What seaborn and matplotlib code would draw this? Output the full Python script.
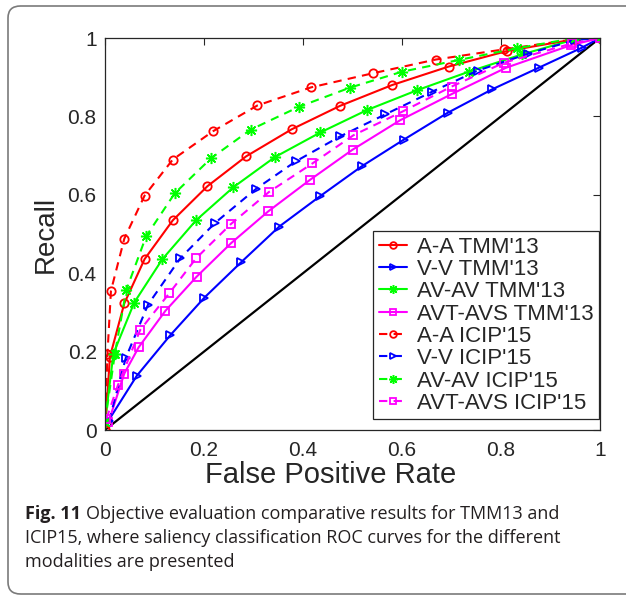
import matplotlib

matplotlib.use("Agg")
import matplotlib.pyplot as plt
import seaborn as sns
from matplotlib.patches import FancyBboxPatch

# ROC points (false positive rate, recall)
aa_tmm_x = [0.0, 0.010, 0.039, 0.080, 0.137, 0.207, 0.285, 0.377, 0.475, 0.580, 0.694, 0.813, 0.950, 1.0]
aa_tmm_y = [0.0, 0.187, 0.323, 0.436, 0.535, 0.622, 0.698, 0.767, 0.827, 0.880, 0.927, 0.967, 0.997, 1.0]

vv_tmm_x = [0.005, 0.064, 0.132, 0.201, 0.275, 0.352, 0.434, 0.519, 0.604, 0.692, 0.782, 0.876, 0.963, 1.0]
vv_tmm_y = [0.020, 0.138, 0.242, 0.338, 0.428, 0.519, 0.596, 0.673, 0.741, 0.809, 0.869, 0.924, 0.975, 1.0]

avav_tmm_x = [0.0, 0.017, 0.059, 0.116, 0.184, 0.259, 0.343, 0.435, 0.529, 0.631, 0.735, 0.842, 0.950, 1.0]
avav_tmm_y = [0.020, 0.195, 0.325, 0.436, 0.535, 0.619, 0.696, 0.759, 0.816, 0.867, 0.914, 0.958, 0.997, 1.0]

avt_tmm_x = [0.007, 0.039, 0.068, 0.122, 0.185, 0.255, 0.330, 0.414, 0.500, 0.596, 0.702, 0.810, 0.942, 1.0]
avt_tmm_y = [0.020, 0.144, 0.211, 0.304, 0.391, 0.477, 0.558, 0.638, 0.715, 0.790, 0.858, 0.924, 0.982, 1.0]

aa_icip_x = [0.0, 0.005, 0.012, 0.039, 0.080, 0.137, 0.218, 0.308, 0.416, 0.541, 0.668, 0.806, 0.950, 1.0]
aa_icip_y = [0.0, 0.195, 0.355, 0.488, 0.598, 0.690, 0.762, 0.828, 0.874, 0.910, 0.945, 0.971, 0.997, 1.0]

vv_icip_x = [0.008, 0.042, 0.087, 0.152, 0.223, 0.306, 0.385, 0.475, 0.566, 0.661, 0.753, 0.855, 0.950, 1.0]
vv_icip_y = [0.022, 0.184, 0.320, 0.438, 0.529, 0.616, 0.685, 0.749, 0.805, 0.863, 0.917, 0.960, 0.995, 1.0]

avav_icip_x = [0.0, 0.020, 0.043, 0.083, 0.141, 0.215, 0.294, 0.391, 0.494, 0.600, 0.715, 0.833, 0.950, 1.0]
avav_icip_y = [0.020, 0.195, 0.357, 0.494, 0.604, 0.694, 0.766, 0.824, 0.873, 0.914, 0.944, 0.974, 1.0, 1.0]

avt_icip_x = [0.003, 0.026, 0.071, 0.130, 0.184, 0.254, 0.331, 0.419, 0.502, 0.602, 0.700, 0.806, 0.943, 1.0]
avt_icip_y = [0.029, 0.114, 0.255, 0.349, 0.438, 0.525, 0.607, 0.680, 0.752, 0.813, 0.876, 0.937, 0.986, 1.0]

chance = [0.0, 1.0]
ticks = [0, 0.2, 0.4, 0.6, 0.8, 1]
tick_labels = ["0", "0.2", "0.4", "0.6", "0.8", "1"]

star = (8, 2, 0)
series = [
    ("A-A TMM'13", aa_tmm_x, aa_tmm_y, "#ff0000", "o", "-"),
    ("V-V TMM'13", vv_tmm_x, vv_tmm_y, "#0000ff", ">", "-"),
    ("AV-AV TMM'13", avav_tmm_x, avav_tmm_y, "#00ff00", star, "-"),
    ("AVT-AVS TMM'13", avt_tmm_x, avt_tmm_y, "#ff00ff", "s", "-"),
    ("A-A ICIP'15", aa_icip_x, aa_icip_y, "#ff0000", "o", "--"),
    ("V-V ICIP'15", vv_icip_x, vv_icip_y, "#0000ff", ">", "--"),
    ("AV-AV ICIP'15", avav_icip_x, avav_icip_y, "#00ff00", star, "--"),
    ("AVT-AVS ICIP'15", avt_icip_x, avt_icip_y, "#ff00ff", "s", "--"),
]

sns.set_theme(style="white")
plt.rcParams["font.family"] = ["Liberation Sans", "DejaVu Sans"]
plt.rcParams["xtick.direction"] = "in"
plt.rcParams["ytick.direction"] = "in"

fig = plt.figure(figsize=(6.26, 5.96), dpi=100)
ax = fig.add_axes([105 / 626, 1 - 430 / 596, 495 / 626, 392 / 596])

sns.lineplot(x=chance, y=chance, ax=ax, color="black", linewidth=1.6, sort=False)

for label, xs, ys, color, marker, style in series:
    is_star = marker == star
    sns.lineplot(
        x=xs, y=ys, ax=ax, color=color, linestyle=style, linewidth=1.5,
        marker=marker, markersize=8 if is_star else 6, markerfacecolor="none",
        markeredgecolor=color, markeredgewidth=1.1 if is_star else 1.3,
        sort=False, label=label, dashes=False,
    )
for line in ax.get_lines()[1:]:
    if line.get_linestyle() == "--":
        line.set_dashes((4, 3))

ax.set_xlim(0, 1)
ax.set_ylim(0, 1)
ax.set_xticks(ticks)
ax.set_xticklabels(tick_labels)
ax.set_yticks(ticks)
ax.set_yticklabels(tick_labels)
ax.tick_params(axis="both", labelsize=15, length=5, width=0.8, color="#262626",
               top=True, right=True)
ax.tick_params(axis="x", pad=8)
ax.tick_params(axis="y", pad=6)
for spine in ax.spines.values():
    spine.set_linewidth(0.9)
    spine.set_color("#262626")
ax.set_xlabel("False Positive Rate", fontsize=21, labelpad=2)
ax.xaxis.set_label_coords(0.455, -0.078)
ax.set_ylabel("Recall", fontsize=20, labelpad=6)

leg = ax.legend(loc="lower right", bbox_to_anchor=(0.998, 0.027), fontsize=16,
                frameon=True, fancybox=False, edgecolor="#262626", framealpha=1,
                handlelength=1.25, handletextpad=0.45, labelspacing=0.06,
                borderpad=0.25, borderaxespad=0, markerscale=0.8)
leg.get_frame().set_linewidth(0.9)

# caption box around the figure
frame = FancyBboxPatch((8 / 626, 2 / 596), 700 / 626, 588 / 596,
                       boxstyle="round,pad=0,rounding_size=0.02",
                       transform=fig.transFigure, fill=False,
                       edgecolor="#7a7a7a", linewidth=1.2, clip_on=False)
fig.patches.append(frame)

cap_font = ["Open Sans", "DejaVu Sans"]
cap_size = 13
bold = fig.text(25 / 626, 1 - 519 / 596, "Fig. 11", fontsize=cap_size, fontweight="bold",
                family=cap_font, color="#231f20")
fig.canvas.draw()
bold_end = bold.get_window_extent().x1 / fig.bbox.width
fig.text(bold_end + 5 / 626, 1 - 519 / 596,
         "Objective evaluation comparative results for TMM13 and",
         fontsize=cap_size, family=cap_font, color="#231f20")
fig.text(25 / 626, 1 - 543 / 596,
         "ICIP15, where saliency classification ROC curves for the different",
         fontsize=cap_size, family=cap_font, color="#231f20")
fig.text(25 / 626, 1 - 567 / 596, "modalities are presented",
         fontsize=cap_size, family=cap_font, color="#231f20")

fig.savefig("out.png", dpi=100)
